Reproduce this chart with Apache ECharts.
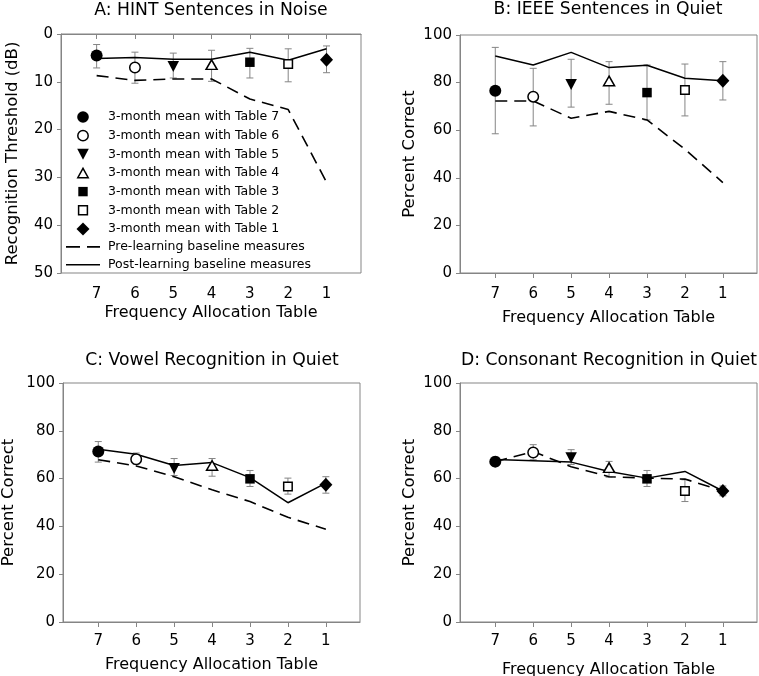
<!DOCTYPE html>
<html><head><meta charset="utf-8">
<script src="https://cdn.jsdelivr.net/npm/echarts@6/dist/echarts.min.js"></script>
<style>html,body{margin:0;padding:0;background:#fff}#c{width:759px;height:676px}</style>
</head><body><div id="c"></div>
<script>
// ---------- data ----------
const tables = [7, 6, 5, 4, 3, 2, 1];
const xTickValues = [1, 2, 3, 4, 5, 6, 7];
const markerNames = ['3-month mean with Table 7', '3-month mean with Table 6', '3-month mean with Table 5',
  '3-month mean with Table 4', '3-month mean with Table 3', '3-month mean with Table 2', '3-month mean with Table 1'];
const preName = 'Pre-learning baseline measures';
const postName = 'Post-learning baseline measures';
const panelTitles = ['A: HINT Sentences in Noise', 'B: IEEE Sentences in Quiet',
  'C: Vowel Recognition in Quiet', 'D: Consonant Recognition in Quiet'];
const yAxisNames = ['Recognition Threshold (dB)', 'Percent Correct', 'Percent Correct', 'Percent Correct'];
const xAxisName = 'Frequency Allocation Table';

// A: HINT (dB, lower is better)
const hintMean = [4.5, 7.0, 6.8, 6.4, 5.9, 6.3, 5.4];
const hintErrLo = [2.2, 3.8, 4.0, 3.4, 3.0, 3.1, 2.5];
const hintErrHi = [7.1, 10.3, 9.2, 9.9, 9.2, 10.0, 8.1];
const hintPre = [8.7, 9.7, 9.4, 9.4, 13.6, 15.8, 31.0];
const hintPost = [5.1, 4.9, 5.3, 5.3, 3.8, 5.5, 3.1];

// B: IEEE
const ieeeMean = [76.6, 74.1, 79.2, 80.7, 75.8, 76.9, 80.8];
const ieeeErrLo = [58.5, 61.8, 69.7, 70.9, 64.3, 66.0, 72.7];
const ieeeErrHi = [94.8, 86.0, 89.8, 88.8, 87.4, 87.8, 88.8];
const ieeePre = [72.3, 72.3, 65.0, 67.9, 64.3, 52.0, 38.0];
const ieeePost = [91.2, 87.4, 92.7, 86.3, 87.3, 81.8, 80.8];

// C: Vowel
const vowelMean = [71.3, 68.1, 64.2, 65.5, 59.9, 56.7, 57.4];
const vowelErrLo = [66.9, 66.0, 61.3, 61.0, 56.7, 53.5, 53.9];
const vowelErrHi = [75.5, 70.7, 68.4, 68.4, 63.4, 60.2, 60.8];
const vowelPre = [67.9, 65.3, 60.8, 55.3, 50.4, 43.8, 38.8];
const vowelPost = [72.3, 70.2, 65.5, 66.7, 60.4, 49.9, 58.1];

// D: Consonant
const consMean = [67.1, 70.9, 68.7, 64.6, 59.9, 54.8, 54.8];
const consErrLo = [65.2, 67.9, 65.9, 60.6, 56.7, 50.4, 52.8];
const consErrHi = [69.0, 74.2, 72.1, 67.2, 63.4, 59.5, 56.9];
const consPre = [67.1, 71.3, 65.0, 60.8, 60.2, 59.8, 54.8];
const consPost = [68.0, 67.5, 66.9, 63.0, 60.2, 63.0, 54.8];

// y axis ranges
const yMinA = 0, yMaxA = 50, yStepA = 10;
const yMinPct = 0, yMaxPct = 100, yStepPct = 20;

// ---------- layout / style ----------
const FONT = 'DejaVu Sans';
const GRAY = '#858585';
const panels = [
  {mean: hintMean, lo: hintErrLo, hi: hintErrHi, pre: hintPre, post: hintPost, ymin: yMinA, ymax: yMaxA, step: yStepA, inverse: true,
   left: 61, top: 34, width: 300, height: 239, titleX: 211, titleY: 2, yNameGap: 40, xNameGap: 32, xLabelMargin: 14},
  {mean: ieeeMean, lo: ieeeErrLo, hi: ieeeErrHi, pre: ieeePre, post: ieeePost, ymin: yMinPct, ymax: yMaxPct, step: yStepPct, inverse: false,
   left: 460, top: 35, width: 297, height: 238, titleX: 608, titleY: 1, yNameGap: 42, xNameGap: 37, xLabelMargin: 14},
  {mean: vowelMean, lo: vowelErrLo, hi: vowelErrHi, pre: vowelPre, post: vowelPost, ymin: yMinPct, ymax: yMaxPct, step: yStepPct, inverse: false,
   left: 63, top: 383, width: 297, height: 239, titleX: 212, titleY: 352, yNameGap: 46, xNameGap: 35, xLabelMargin: 12},
  {mean: consMean, lo: consErrLo, hi: consErrHi, pre: consPre, post: consPost, ymin: yMinPct, ymax: yMaxPct, step: yStepPct, inverse: false,
   left: 460, top: 383, width: 297, height: 239, titleX: 609, titleY: 352, yNameGap: 42, xNameGap: 40, xLabelMargin: 12}
];

const DOWN_TRI = 'path://M0,0L10,0L5,10Z';
const markerStyles = [
  {symbol: 'circle', size: 12, fill: '#000', bw: 0},
  {symbol: 'circle', size: 10.5, fill: '#fff', bw: 1.5},
  {symbol: DOWN_TRI, size: [11.5, 11], fill: '#000', bw: 0},
  {symbol: 'triangle', size: [11, 9.5], fill: '#fff', bw: 1.5},
  {symbol: 'rect', size: 9.5, fill: '#000', bw: 0},
  {symbol: 'rect', size: 8.5, fill: '#fff', bw: 1.5},
  {symbol: 'diamond', size: [13, 14], fill: '#000', bw: 0}
];
const legendIcons = [
  'path://M0,0M14,14M1.2,7A5.8,5.8,0,1,0,12.8,7A5.8,5.8,0,1,0,1.2,7Z',
  'path://M0,0M14,14M1.8,7A5.2,5.2,0,1,0,12.2,7A5.2,5.2,0,1,0,1.8,7Z',
  'path://M0,0M14,14M1.2,1.5L12.8,1.5L7,12.5Z',
  'path://M0,0M14,14M1.8,11.8L12.2,11.8L7,2.4Z',
  'path://M0,0M14,14M2.3,2.3L11.7,2.3L11.7,11.7L2.3,11.7Z',
  'path://M0,0M14,14M2.6,2.6L11.4,2.6L11.4,11.4L2.6,11.4Z',
  'path://M0,0M14,14M7,0.5L13.5,7L7,13.5L0.5,7Z'
];
const DASH_ICON = 'path://M0,0L14,0L14,1.7L0,1.7Z M21,0L34,0L34,1.7L21,1.7Z';
const SOLID_ICON = 'path://M0,0L34,0L34,1.5L0,1.5Z';

const option = {
  animation: false,
  backgroundColor: '#fff',
  title: panels.map((p, i) => ({
    text: panelTitles[i], left: p.titleX, top: p.titleY, textAlign: 'center', padding: 0,
    textStyle: {fontFamily: FONT, fontSize: 17.2, fontWeight: 'normal', color: '#000'}
  })),
  legend: {
    orient: 'vertical', left: 66, top: 110, padding: 0,
    itemWidth: 34, itemHeight: 14, itemGap: 3.9, selectedMode: false,
    textStyle: {fontFamily: FONT, fontSize: 12.5, color: '#000', lineHeight: 14, padding: [0, 0, 0, 3]},
    data: markerNames.map((n, i) => ({
      name: n, icon: legendIcons[i],
      itemStyle: {color: markerStyles[i].fill, borderColor: '#000', borderWidth: markerStyles[i].bw}
    })).concat([
      {name: preName, icon: DASH_ICON, itemStyle: {color: '#000', borderWidth: 0}},
      {name: postName, icon: SOLID_ICON, itemStyle: {color: '#000', borderWidth: 0}}
    ])
  },
  grid: panels.map(p => ({
    left: p.left, top: p.top, width: p.width, height: p.height,
    show: true, borderColor: GRAY, borderWidth: 1, backgroundColor: 'transparent',
    containLabel: false, outerBoundsMode: 'none'
  })),
  xAxis: panels.map((p, i) => ({
    type: 'value', gridIndex: i, inverse: true, min: 0.1, max: 7.93,
    name: xAxisName, nameLocation: 'middle', nameGap: p.xNameGap,
    nameTextStyle: {fontFamily: FONT, fontSize: 16, color: '#000'},
    axisLine: {show: true, lineStyle: {color: GRAY, width: 1}},
    axisTick: {show: true, inside: false, length: 5, lineStyle: {color: GRAY}, customValues: xTickValues},
    axisLabel: {fontFamily: FONT, fontSize: 15, color: '#000', margin: p.xLabelMargin, customValues: xTickValues},
    splitLine: {show: false}
  })),
  yAxis: panels.map((p, i) => ({
    type: 'value', gridIndex: i, inverse: p.inverse, min: p.ymin, max: p.ymax, interval: p.step,
    name: yAxisNames[i], nameLocation: 'middle', nameGap: p.yNameGap,
    nameTextStyle: {fontFamily: FONT, fontSize: 16.5, color: '#000'},
    axisLine: {show: true, lineStyle: {color: GRAY, width: 1}},
    axisTick: {show: true, inside: false, length: 4, lineStyle: {color: GRAY}},
    axisLabel: {fontFamily: FONT, fontSize: 15, color: '#000', margin: 8},
    splitLine: {show: false}
  })),
  series: []
};

panels.forEach((p, pi) => {
  option.series.push({
    type: 'custom', name: 'errorbars' + pi, xAxisIndex: pi, yAxisIndex: pi, z: 1, silent: true,
    encode: {x: 0, y: [1, 2]},
    data: tables.map((t, i) => [t, p.lo[i], p.hi[i]]),
    renderItem: function (params, api) {
      const x = api.value(0);
      const a = api.coord([x, api.value(1)]);
      const b = api.coord([x, api.value(2)]);
      const w = 3.5;
      const st = {stroke: GRAY, lineWidth: 1};
      return {type: 'group', children: [
        {type: 'line', shape: {x1: a[0], y1: a[1], x2: b[0], y2: b[1]}, style: st},
        {type: 'line', shape: {x1: a[0] - w, y1: a[1], x2: a[0] + w, y2: a[1]}, style: st},
        {type: 'line', shape: {x1: b[0] - w, y1: b[1], x2: b[0] + w, y2: b[1]}, style: st}
      ]};
    }
  });
  option.series.push({
    type: 'line', name: preName, xAxisIndex: pi, yAxisIndex: pi, z: 2, silent: true,
    symbol: 'none', showSymbol: false,
    lineStyle: {color: '#000', width: 1.6, type: [12, 7]},
    itemStyle: {color: '#000'},
    data: tables.map((t, i) => [t, p.pre[i]])
  });
  option.series.push({
    type: 'line', name: postName, xAxisIndex: pi, yAxisIndex: pi, z: 2, silent: true,
    symbol: 'none', showSymbol: false,
    lineStyle: {color: '#000', width: 1.5, type: 'solid'},
    itemStyle: {color: '#000'},
    data: tables.map((t, i) => [t, p.post[i]])
  });
  tables.forEach((t, i) => {
    const ms = markerStyles[i];
    option.series.push({
      type: 'scatter', name: markerNames[i], xAxisIndex: pi, yAxisIndex: pi, z: 3, silent: true,
      symbol: ms.symbol, symbolSize: ms.size,
      itemStyle: {color: ms.fill, borderColor: '#000', borderWidth: ms.bw, opacity: 1},
      data: [[t, p.mean[i]]]
    });
  });
});

const chart = echarts.init(document.getElementById('c'), null, {renderer: 'canvas'});
chart.setOption(option);
</script>
</body></html>
